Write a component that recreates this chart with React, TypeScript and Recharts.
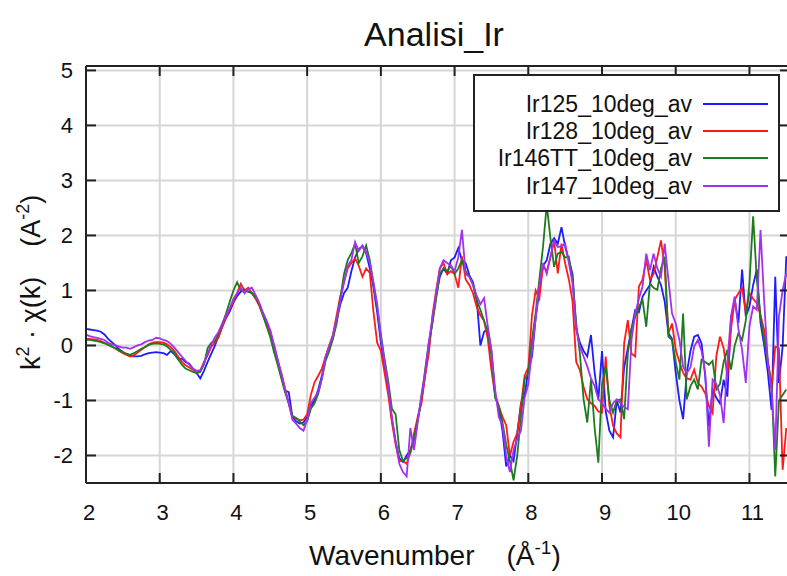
import { LineChart, Line, XAxis, YAxis, CartesianGrid, Legend } from 'recharts';

const FONT = '"Liberation Sans", Arial, Helvetica, sans-serif';

// wavenumber grid (1/Å), 0.05 step
const K = [
  2.0, 2.05, 2.1, 2.15, 2.2, 2.25, 2.3, 2.35, 2.4, 2.45, 2.5, 2.55, 2.6, 2.65, 2.7, 2.75, 2.8, 2.85, 2.9, 2.95,
  3.0, 3.05, 3.1, 3.15, 3.2, 3.25, 3.3, 3.35, 3.4, 3.45, 3.5, 3.55, 3.6, 3.65, 3.7, 3.75, 3.8, 3.85, 3.9, 3.95,
  4.0, 4.05, 4.1, 4.15, 4.2, 4.25, 4.3, 4.35, 4.4, 4.45, 4.5, 4.55, 4.6, 4.65, 4.7, 4.75, 4.8, 4.85, 4.9, 4.95,
  5.0, 5.05, 5.1, 5.15, 5.2, 5.25, 5.3, 5.35, 5.4, 5.45, 5.5, 5.55, 5.6, 5.65, 5.7, 5.75, 5.8, 5.85, 5.9, 5.95,
  6.0, 6.05, 6.1, 6.15, 6.2, 6.25, 6.3, 6.35, 6.4, 6.45, 6.5, 6.55, 6.6, 6.65, 6.7, 6.75, 6.8, 6.85, 6.9, 6.95,
  7.0, 7.05, 7.1, 7.15, 7.2, 7.25, 7.3, 7.35, 7.4, 7.45, 7.5, 7.55, 7.6, 7.65, 7.7, 7.75, 7.8, 7.85, 7.9, 7.95,
  8.0, 8.05, 8.1, 8.15, 8.2, 8.25, 8.3, 8.35, 8.4, 8.45, 8.5, 8.55, 8.6, 8.65, 8.7, 8.75, 8.8, 8.85, 8.9, 8.95,
  9.0, 9.05, 9.1, 9.15, 9.2, 9.25, 9.3, 9.35, 9.4, 9.45, 9.5, 9.55, 9.6, 9.65, 9.7, 9.75, 9.8, 9.85, 9.9, 9.95,
  10.0, 10.05, 10.1, 10.15, 10.2, 10.25, 10.3, 10.35, 10.4, 10.45, 10.5, 10.55, 10.6, 10.65, 10.7, 10.75, 10.8, 10.85, 10.9, 10.95,
  11.0, 11.05, 11.1, 11.15, 11.2, 11.25, 11.3, 11.35, 11.4, 11.45, 11.5,
];

const IR125 = [
  0.30, 0.29, 0.28, 0.27, 0.25, 0.20, 0.12, 0.06, 0.00, -0.07, -0.12, -0.16, -0.19, -0.20, -0.20, -0.19, -0.16, -0.14, -0.13, -0.12,
  -0.13, -0.14, -0.17, -0.10, -0.16, -0.25, -0.24, -0.30, -0.33, -0.42, -0.50, -0.60, -0.46, -0.30, -0.15, 0.00, 0.18, 0.34, 0.50, 0.62,
  0.78, 0.90, 0.98, 1.00, 0.98, 0.95, 0.88, 0.75, 0.58, 0.42, 0.25, -0.02, -0.28, -0.55, -0.82, -0.85, -1.30, -1.38, -1.42, -1.40,
  -1.30, -1.10, -1.00, -0.80, -0.55, -0.22, 0.00, 0.15, 0.45, 0.75, 0.95, 1.05, 1.35, 1.60, 1.75, 1.80, 1.68, 1.40, 1.05, 0.60,
  0.05, -0.40, -0.80, -1.35, -1.75, -2.05, -2.12, -2.00, -1.90, -1.70, -1.35, -1.00, -0.55, -0.05, 0.45, 0.90, 1.25, 1.40, 1.30, 1.55,
  1.60, 1.77, 1.55, 1.50, 1.28, 1.15, 0.85, 0.00, 0.25, 0.30, -0.10, -0.90, -1.15, -1.55, -2.20, -2.00, -2.10, -1.60, -1.05, -0.90,
  -0.45, -0.20, 0.50, 1.00, 1.45, 1.55, 1.85, 1.95, 1.85, 2.15, 1.80, 1.55, 1.30, 0.30, 0.05, -0.10, -0.20, 0.19, -0.50, -0.98,
  -0.10, -1.20, -1.55, -1.67, -1.00, -1.22, -0.40, -0.05, 0.30, 0.64, 0.60, 0.89, 1.00, 1.10, 1.43, 1.25, 1.10, 0.80, 0.22, 0.12,
  -0.50, -1.00, -1.34, -0.50, -0.10, 0.16, 0.19, 0.04, -0.56, -1.47, -0.80, -0.95, -1.05, -0.62, -0.93, 0.50, 0.83, 0.41, 1.38, 0.53,
  0.71, 1.10, 1.38, 0.41, 0.00, -0.50, -1.17, 1.25, -0.68, -0.02, 1.62,
];

const IR128 = [
  0.12, 0.12, 0.11, 0.10, 0.08, 0.05, 0.02, -0.02, -0.06, -0.10, -0.14, -0.17, -0.20, -0.18, -0.13, -0.08, -0.03, 0.02, 0.05, 0.06,
  0.06, 0.05, 0.02, -0.03, -0.10, -0.20, -0.30, -0.36, -0.40, -0.44, -0.50, -0.46, -0.30, -0.18, -0.02, 0.05, 0.15, 0.35, 0.52, 0.66,
  0.80, 0.95, 1.12, 1.00, 1.05, 0.95, 0.85, 0.72, 0.55, 0.38, 0.22, 0.00, -0.28, -0.50, -0.78, -1.05, -1.30, -1.32, -1.36, -1.35,
  -1.25, -0.90, -0.67, -0.55, -0.42, -0.20, 0.00, 0.20, 0.55, 0.90, 1.15, 1.40, 1.50, 1.58, 1.45, 1.25, 1.40, 1.32, 0.60, 0.05,
  -0.10, -0.50, -0.90, -1.40, -1.80, -2.10, -2.10, -2.15, -1.95, -1.60, -1.30, -1.05, -0.55, -0.15, 0.55, 1.00, 1.40, 1.50, 1.30, 1.35,
  1.30, 1.05, 1.62, 1.20, 1.10, 0.95, 0.70, 0.55, 0.45, 0.12, -0.45, -0.90, -1.10, -1.30, -1.45, -2.00, -1.75, -1.60, -1.10, -0.55,
  -0.40, 0.55, 1.00, 0.85, 1.45, 1.35, 1.60, 1.91, 1.31, 1.85, 1.49, 1.20, 0.80, -0.30, -0.45, -0.75, -0.98, -1.05, -1.10, -1.20,
  -1.22, -0.20, -1.10, -1.46, -1.60, -1.67, 0.04, 0.46, -0.15, -0.20, 1.07, 1.20, 1.55, 1.20, 1.30, 1.60, 1.91, 1.43, 0.22, 0.40,
  -0.08, -0.30, -0.50, -0.60, -0.62, -0.44, -0.68, -0.75, -0.87, -1.10, -1.23, -0.20, 0.16, -0.05, -0.56, 0.30, 0.83, 0.95, 1.04, 0.60,
  0.95, 0.85, 0.77, 0.55, 0.28, -0.30, -0.80, -0.02, -0.05, -2.26, -1.50,
];

const IR146TT = [
  0.10, 0.10, 0.09, 0.08, 0.06, 0.04, 0.01, -0.02, -0.05, -0.09, -0.12, -0.15, -0.17, -0.14, -0.10, -0.06, -0.03, 0.01, 0.03, 0.04,
  0.03, 0.02, -0.02, -0.08, -0.14, -0.25, -0.35, -0.42, -0.45, -0.48, -0.50, -0.48, -0.35, -0.05, 0.05, 0.08, 0.22, 0.40, 0.58, 0.80,
  1.00, 1.15, 1.00, 1.02, 0.98, 0.96, 0.88, 0.75, 0.55, 0.35, 0.15, -0.12, -0.35, -0.60, -0.85, -1.05, -1.28, -1.32, -1.38, -1.45,
  -1.38, -1.15, -1.05, -0.88, -0.60, -0.28, -0.10, 0.12, 0.40, 0.85, 1.30, 1.55, 1.68, 1.85, 1.50, 1.62, 1.82, 1.55, 1.10, 0.70,
  0.20, -0.25, -0.65, -1.15, -1.25, -1.90, -2.10, -2.05, -1.95, -1.70, -1.35, -0.95, -0.45, 0.05, 0.40, 0.85, 1.30, 1.40, 1.35, 1.45,
  1.30, 1.40, 1.55, 1.35, 1.25, 1.10, 0.82, 0.65, 0.45, 0.25, -0.20, -0.95, -1.10, -1.40, -1.80, -2.10, -2.45, -2.00, -1.30, -0.62,
  -0.50, 0.10, 0.60, 1.20, 1.80, 2.56, 1.95, 1.43, 1.67, 1.70, 1.60, 1.61, 1.20, 0.40, -0.15, -0.98, -1.40, -0.62, -1.50, -2.13,
  -0.70, -0.38, -1.00, -1.22, -1.00, -0.98, -1.34, -0.14, 0.30, 0.52, 0.70, 0.83, 0.34, 1.13, 1.05, 1.01, 1.40, 1.61, 0.16, 0.10,
  -0.30, -0.62, 0.58, -0.98, -0.74, -0.62, -0.80, -0.26, -0.30, -0.35, -0.28, -0.80, -0.70, -0.30, -0.08, -0.44, 0.00, 0.22, 0.10, 0.45,
  1.13, 2.35, 1.20, 0.53, 0.10, -0.30, -0.68, -2.38, -1.00, -0.90, -0.80,
];

const IR147 = [
  0.20, 0.17, 0.15, 0.14, 0.12, 0.10, 0.05, 0.02, 0.00, -0.02, -0.04, -0.04, -0.06, -0.03, 0.00, 0.02, 0.06, 0.09, 0.10, 0.14,
  0.13, 0.10, 0.08, 0.03, -0.04, -0.12, -0.20, -0.28, -0.35, -0.42, -0.46, -0.45, -0.33, -0.15, 0.02, 0.15, 0.25, 0.40, 0.55, 0.68,
  0.85, 0.95, 1.05, 0.95, 1.02, 1.05, 0.92, 0.78, 0.60, 0.45, 0.28, 0.02, -0.25, -0.52, -0.80, -1.05, -1.35, -1.42, -1.50, -1.55,
  -1.35, -1.05, -0.95, -0.85, -0.60, -0.22, -0.02, 0.18, 0.48, 0.82, 1.15, 1.45, 1.55, 1.88, 1.72, 1.82, 1.70, 1.50, 1.15, 0.75,
  0.15, -0.30, -0.75, -1.30, -1.75, -2.15, -2.30, -2.38, -1.50, -1.90, -1.40, -0.90, -0.50, 0.05, 0.50, 0.95, 1.40, 1.55, 1.50, 1.45,
  1.35, 1.60, 2.10, 1.30, 1.25, 1.10, 0.90, 0.75, 0.86, 0.35, -0.10, -0.80, -1.30, -1.45, -2.00, -2.30, -1.90, -1.70, -1.55, -0.95,
  -0.70, -0.10, 0.50, 1.10, 1.50, 1.30, 1.61, 1.91, 1.79, 1.80, 1.85, 1.50, 1.13, 0.30, -0.02, -0.20, -0.38, -0.60, -0.74, -0.98,
  -1.05, -1.15, -1.22, -1.05, -0.98, -1.05, -1.12, -1.16, 0.10, 0.58, 0.85, 1.07, 1.67, 1.37, 1.67, 1.40, 1.25, 1.85, 1.20, 0.58,
  0.40, 0.10, -0.38, -0.50, -0.40, -0.02, 0.10, -0.10, -0.50, -1.84, -0.62, -0.70, -0.90, -1.41, -0.30, 0.53, 0.89, 0.30, -0.08, -0.68,
  0.35, 0.71, 0.65, 2.10, 0.80, -0.32, -0.80, -1.90, 0.53, 1.00, 1.32,
];

const SERIES = [
  { key: 'ir125', name: 'Ir125_10deg_av', color: '#1c1cff', values: IR125 },
  { key: 'ir128', name: 'Ir128_10deg_av', color: '#ff1a1a', values: IR128 },
  { key: 'ir146tt', name: 'Ir146TT_10deg_av', color: '#1e7a1e', values: IR146TT },
  { key: 'ir147', name: 'Ir147_10deg_av', color: '#a232ee', values: IR147 },
];

const X_TICKS = [2, 3, 4, 5, 6, 7, 8, 9, 10, 11];
const Y_TICKS = [-2, -1, 0, 1, 2, 3, 4, 5];
const X_DOMAIN = [2, 11.55];
const Y_DOMAIN = [-2.5, 5.08];

const data = K.map((k, i) => {
  const row: Record<string, number> = { k };
  SERIES.forEach((s) => {
    row[s.key] = s.values[i];
  });
  return row;
});

const AXIS = '#222';
const TICK_LEN = 10;

// inward ticks on all four sides, labels only bottom and left.
// tickSize/tickMargin are 0, so x/y arrive at the axis line itself.
const BottomTick = ({ x, y, payload }: any) => (
  <g>
    <line x1={x} y1={y} x2={x} y2={y - TICK_LEN} stroke={AXIS} strokeWidth={2} />
    <text x={x + 3} y={y + 37} textAnchor="middle" fontSize={22} fill="#111" fontFamily={FONT}>
      {payload.value}
    </text>
  </g>
);

const TopTick = ({ x, y }: any) => (
  <line x1={x} y1={y} x2={x} y2={y + TICK_LEN} stroke={AXIS} strokeWidth={2} />
);

const LeftTick = ({ x, y, payload }: any) => (
  <g>
    <line x1={x} y1={y} x2={x + TICK_LEN} y2={y} stroke={AXIS} strokeWidth={2} />
    <text x={x - 13} y={y + 8} textAnchor="end" fontSize={22} fill="#111" fontFamily={FONT}>
      {payload.value}
    </text>
  </g>
);

const RightTick = ({ x, y }: any) => (
  <line x1={x} y1={y} x2={x - TICK_LEN} y2={y} stroke={AXIS} strokeWidth={2} />
);

function LegendBox() {
  const rowY = [30, 57, 84, 112];
  return (
    <svg width={307} height={138} style={{ display: 'block' }}>
      <rect x={1} y={1} width={305} height={136} fill="#fff" stroke={AXIS} strokeWidth={2} />
      {SERIES.map((s, i) => (
        <g key={s.key}>
          <text x={219} y={rowY[i] + 8} textAnchor="end" fontSize={23} fill="#111" fontFamily={FONT}>
            {s.name}
          </text>
          <line x1={230} y1={rowY[i]} x2={295} y2={rowY[i]} stroke={s.color} strokeWidth={2} />
        </g>
      ))}
    </svg>
  );
}

export default function App() {
  return (
    <div
      style={{
        position: 'absolute',
        left: 0,
        top: 0,
        width: 787,
        height: 576,
        overflow: 'hidden',
        background: '#fff',
      }}
    >
      {/* plot box: x 86..790, y 66..483 (right edge runs past the page) */}
      <LineChart width={830} height={576} data={data} margin={{ top: 36, right: 10, bottom: 63, left: 46 }}>
        <CartesianGrid xAxisId="bottom" yAxisId="left" stroke="#d6d6d6" strokeWidth={2} />
        <XAxis
          xAxisId="bottom"
          dataKey="k"
          type="number"
          domain={X_DOMAIN}
          ticks={X_TICKS}
          allowDataOverflow
          height={30}
          tickSize={0}
          tickMargin={0}
          axisLine={{ stroke: AXIS, strokeWidth: 2 }}
          tick={BottomTick}
          interval={0}
        />
        <XAxis
          xAxisId="top"
          orientation="top"
          dataKey="k"
          type="number"
          domain={X_DOMAIN}
          ticks={X_TICKS}
          allowDataOverflow
          height={30}
          tickSize={0}
          tickMargin={0}
          axisLine={{ stroke: AXIS, strokeWidth: 2 }}
          tick={TopTick}
          interval={0}
        />
        <YAxis
          yAxisId="left"
          type="number"
          domain={Y_DOMAIN}
          ticks={Y_TICKS}
          allowDataOverflow
          width={40}
          tickSize={0}
          tickMargin={0}
          axisLine={{ stroke: AXIS, strokeWidth: 2 }}
          tick={LeftTick}
          interval={0}
        />
        <YAxis
          yAxisId="right"
          orientation="right"
          type="number"
          domain={Y_DOMAIN}
          ticks={Y_TICKS}
          allowDataOverflow
          width={30}
          tickSize={0}
          tickMargin={0}
          axisLine={{ stroke: AXIS, strokeWidth: 2 }}
          tick={RightTick}
          interval={0}
        />
        {SERIES.map((s) => (
          <Line
            key={s.key}
            xAxisId="bottom"
            yAxisId="left"
            type="linear"
            dataKey={s.key}
            name={s.name}
            stroke={s.color}
            strokeWidth={1.8}
            dot={false}
            isAnimationActive={false}
          />
        ))}
        <Legend
          layout="horizontal"
          verticalAlign="middle"
          align="center"
          wrapperStyle={{ position: 'absolute', left: 473, top: 74, width: 307, height: 138 }}
          content={() => <LegendBox />}
        />
      </LineChart>

      <svg
        width={787}
        height={576}
        style={{ position: 'absolute', left: 0, top: 0, pointerEvents: 'none' }}
        fontFamily={FONT}
        fill="#111"
      >
        <text x={434} y={46} textAnchor="middle" fontSize={34}>
          Analisi_Ir
        </text>
        <text transform="translate(40,370) rotate(-90)" textAnchor="start" fontSize={27}>
          k<tspan dy={-11} fontSize={18}>2</tspan>
          <tspan dy={11}> · χ(k)</tspan>
          <tspan dx={30}>(A</tspan>
          <tspan dy={-11} fontSize={18}>-2</tspan>
          <tspan dy={11}>)</tspan>
        </text>
        <text x={309} y={565} textAnchor="start" fontSize={28}>
          Wavenumber
          <tspan dx={32}>(Å</tspan>
          <tspan dy={-11} fontSize={19}>-1</tspan>
          <tspan dy={11}>)</tspan>
        </text>
      </svg>
    </div>
  );
}
